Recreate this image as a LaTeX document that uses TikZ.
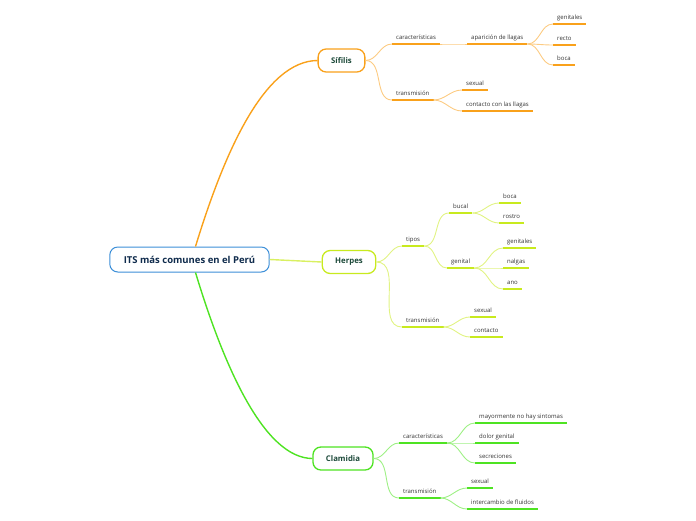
\documentclass[tikz,border=0pt]{standalone}
\usepackage{fontspec}
\setmainfont{Open Sans}
\usetikzlibrary{positioning}
\usetikzlibrary{calc}

\definecolor{sifcol}{HTML}{F9A11B}
\definecolor{hercol}{HTML}{C8EA1E}
\definecolor{clacol}{HTML}{4EE322}
\definecolor{rootcol}{HTML}{3C8FD8}
\definecolor{roottext}{HTML}{0F2B4C}
\definecolor{topictext}{HTML}{1D4A3A}
\definecolor{leaftext}{HTML}{333333}

\tikzset{
    x=1pt, y=-1pt,
    root/.style={draw=rootcol, line width=1pt, rounded corners=8pt, fill=white, text=roottext,
        font=\fontsize{9.5}{11}\selectfont\bfseries, inner xsep=14pt, minimum height=25pt},
    topic/.style={draw=#1, line width=1.3pt, rounded corners=8pt, fill=white, text=topictext,
        font=\fontsize{7.8}{9}\selectfont\bfseries, inner xsep=13pt, minimum height=23pt},
    leaf/.style={anchor=south west, inner xsep=4pt, inner ysep=2.5pt, text height=4.5pt, text depth=1.5pt,
        text=leaftext, font=\fontsize{6}{7}\selectfont,
        append after command={(\tikzlastnode.south west) edge[draw=#1, line width=1.6pt] (\tikzlastnode.south east)}},
    link/.style={draw=#1!55, line width=0.9pt, out=0, in=180},
    trunk/.style={draw=#1, line width=1.4pt},
}

\begin{document}
\begin{tikzpicture}
\useasboundingbox (0,0) rectangle (696,520);

\node[root] (root) at (189.5,259.5) {ITS más comunes en el Perú};
\node[topic=sifcol] (sif) at (341.5,60.5) {Sífilis};
\node[topic=hercol] (her) at (349,262) {Herpes};
\node[topic=clacol] (cla) at (343,458.5) {Clamidia};

% main branches
\draw[trunk=sifcol] ($(root.north)+(6,0)$) .. controls (225,150) and (265,61) .. (sif.west);
\draw[trunk=hercol!70] (root.east) -- (her.west);
\draw[trunk=clacol] ($(root.south)+(6,0)$) .. controls (225,370) and (265,458) .. (cla.west);

% Sifilis
\node[leaf=sifcol] (car1) at (392,44) {características};
\node[leaf=sifcol] (apa) at (467,44) {aparición de llagas};
\node[leaf=sifcol] (gen1) at (553,24) {genitales};
\node[leaf=sifcol] (rec) at (553,45) {recto};
\node[leaf=sifcol] (boc1) at (553,65) {boca};
\node[leaf=sifcol] (tra1) at (392,100) {transmisión};
\node[leaf=sifcol] (sex1) at (462,90) {sexual};
\node[leaf=sifcol] (con1) at (462,111) {contacto con las llagas};

\foreach \a/\b in {car1/apa, apa/gen1, apa/rec, apa/boc1, tra1/sex1, tra1/con1}
    \draw[link=sifcol] (\a.south east) to (\b.south west);
\foreach \b in {car1, tra1}
    \draw[link=sifcol] (sif.east) to (\b.south west);

% Herpes
\node[leaf=hercol] (tip) at (402,246) {tipos};
\node[leaf=hercol] (buc) at (449,213) {bucal};
\node[leaf=hercol] (boc2) at (499,203) {boca};
\node[leaf=hercol] (ros) at (499,223) {rostro};
\node[leaf=hercol] (genl) at (447,268) {genital};
\node[leaf=hercol] (gen2) at (503,248) {genitales};
\node[leaf=hercol] (nal) at (503,268) {nalgas};
\node[leaf=hercol] (ano) at (503,289) {ano};
\node[leaf=hercol] (tra2) at (402,327) {transmisión};
\node[leaf=hercol] (sex2) at (470,317) {sexual};
\node[leaf=hercol] (con2) at (470,337) {contacto};

\foreach \a/\b in {tip/buc, tip/genl, buc/boc2, buc/ros, genl/gen2, genl/nal, genl/ano, tra2/sex2, tra2/con2}
    \draw[link=hercol] (\a.south east) to (\b.south west);
\foreach \b in {tip, tra2}
    \draw[link=hercol] (her.east) to (\b.south west);

% Clamidia
\node[leaf=clacol] (car3) at (399,443) {características};
\node[leaf=clacol] (may) at (475,423) {mayormente no hay sintomas};
\node[leaf=clacol] (dol) at (475,443) {dolor genital};
\node[leaf=clacol] (sec) at (475,463) {secreciones};
\node[leaf=clacol] (tra3) at (399,498) {transmisión};
\node[leaf=clacol] (sex3) at (467,488) {sexual};
\node[leaf=clacol] (int) at (467,509) {intercambio de fluidos};

\foreach \a/\b in {car3/may, car3/dol, car3/sec, tra3/sex3, tra3/int}
    \draw[link=clacol] (\a.south east) to (\b.south west);
\foreach \b in {car3, tra3}
    \draw[link=clacol] (cla.east) to (\b.south west);
\end{tikzpicture}
\end{document}
